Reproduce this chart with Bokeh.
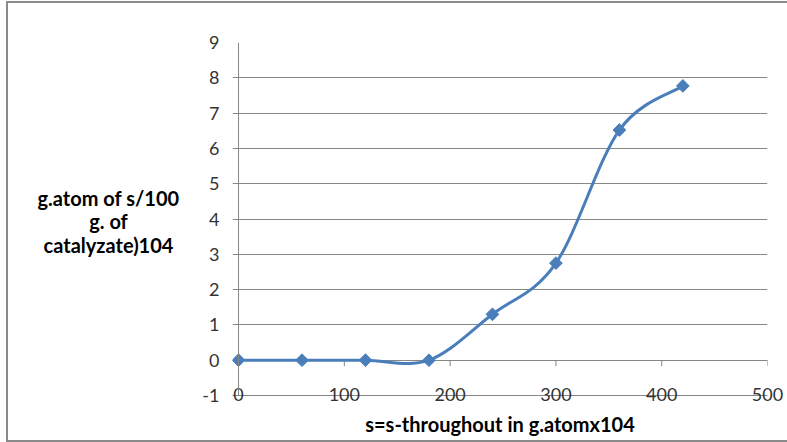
import numpy as np
from bokeh.plotting import figure
from bokeh.layouts import row
from bokeh.models import Range1d, FixedTicker, Span
from bokeh.core.properties import value
from bokeh.embed import file_html
from bokeh.resources import INLINE

# ---- data ----
x_vals = [0, 60, 120, 180, 240, 300, 360, 420]
y_vals = [0, 0, 0, 0, 1.3, 2.75, 6.52, 7.77]
x_ticks = [0, 100, 200, 300, 400, 500]
y_ticks = [-1, 0, 1, 2, 3, 4, 5, 6, 7, 8, 9]
x_title = "s=s-throughout in g.atomx104"
y_title_lines = ["g.atom of s/100", "g. of", "catalyzate)104"]

BLUE = "#4A7EBB"
GRID = "#878787"
FONT = "Lato"
TOP, BOTTOM = 39, 45
y_range = Range1d(-1, 9)

# ---- left panel holding the horizontal y-axis title ----
t = figure(width=182, height=437, output_backend="svg", toolbar_location=None,
           x_range=Range1d(0, 182), y_range=y_range,
           min_border_left=0, min_border_right=0,
           min_border_top=TOP, min_border_bottom=BOTTOM)
t.axis.visible = False
t.grid.visible = False
t.outline_line_color = None
t.text(x=[100] * 3, y=[4.59, 3.94, 3.25], text=y_title_lines,
       text_align="center", text_baseline="middle",
       text_font=value(FONT), text_font_style="bold",
       text_font_size="20px", text_color="black")

# ---- main chart ----
p = figure(width=597, height=437, output_backend="svg", toolbar_location=None,
           x_range=Range1d(-5.7, 500), y_range=y_range,
           min_border_left=42, min_border_right=20,
           min_border_top=TOP, min_border_bottom=BOTTOM)
p.outline_line_color = None
p.background_fill_color = "white"
p.border_fill_color = "white"

# x axis (bottom, acts as the -1 gridline)
p.xaxis.ticker = FixedTicker(ticks=x_ticks)
p.xaxis.major_tick_in = 0
p.xaxis.major_tick_out = 0
p.xaxis.minor_tick_line_color = None
p.xaxis.axis_line_color = GRID
p.xaxis.major_label_standoff = -8
p.xaxis.major_label_text_font = FONT
p.xaxis.major_label_text_font_size = "18px"
p.xaxis.major_label_text_color = "#333333"
p.xaxis.axis_label = x_title
p.xaxis.axis_label_standoff = 8
p.xaxis.axis_label_text_font = FONT
p.xaxis.axis_label_text_font_style = "bold"
p.xaxis.axis_label_text_font_size = "20px"
p.xaxis.axis_label_text_color = "black"
p.xgrid.visible = False

# y axis
p.yaxis.ticker = FixedTicker(ticks=y_ticks)
p.yaxis.major_label_overrides = {-1: "-1"}
p.yaxis.axis_line_color = None
p.yaxis.major_tick_line_color = None
p.yaxis.minor_tick_line_color = None
p.yaxis.major_tick_in = 0
p.yaxis.major_tick_out = 0
p.yaxis.major_label_standoff = 13
p.yaxis.major_label_text_font = FONT
p.yaxis.major_label_text_font_size = "18px"
p.yaxis.major_label_text_color = "#333333"
p.ygrid.ticker = FixedTicker(ticks=y_ticks)
p.ygrid.grid_line_color = GRID
p.ygrid.grid_line_width = 1

# vertical axis line at x=0
p.add_layout(Span(location=0, dimension="height", line_color=GRID, line_width=1))
# x tick marks at y=0
p.segment(x0=x_ticks[1:], y0=0, x1=x_ticks[1:], y1=-0.17, line_color=GRID, line_width=1)

# smoothed curve (Catmull-Rom -> cubic bezier)
P = np.column_stack([x_vals, y_vals]).astype(float)
prev = np.vstack([P[0], P[:-1]])
nxt = np.vstack([P[1:], P[-1]])
tan = (nxt - prev) / 6.0
c0 = P[:-1] + tan[:-1]
c1 = P[1:] - tan[1:]
p.bezier(x0=P[:-1, 0], y0=P[:-1, 1], x1=P[1:, 0], y1=P[1:, 1],
         cx0=c0[:, 0], cy0=c0[:, 1], cx1=c1[:, 0], cy1=c1[:, 1],
         line_color=BLUE, line_width=3)
p.scatter(x_vals, y_vals, marker="square", size=9, angle=np.pi / 4,
          fill_color=BLUE, line_color=BLUE)

layout = row(t, p, spacing=0)
layout.styles = {"border-left": "2px solid #8a8a8a",
                 "border-top": "2px solid #8a8a8a",
                 "border-bottom": "2px solid #8a8a8a",
                 "margin-left": "6px", "margin-top": "1px"}

open("out.html", "w").write(file_html(layout, INLINE))
